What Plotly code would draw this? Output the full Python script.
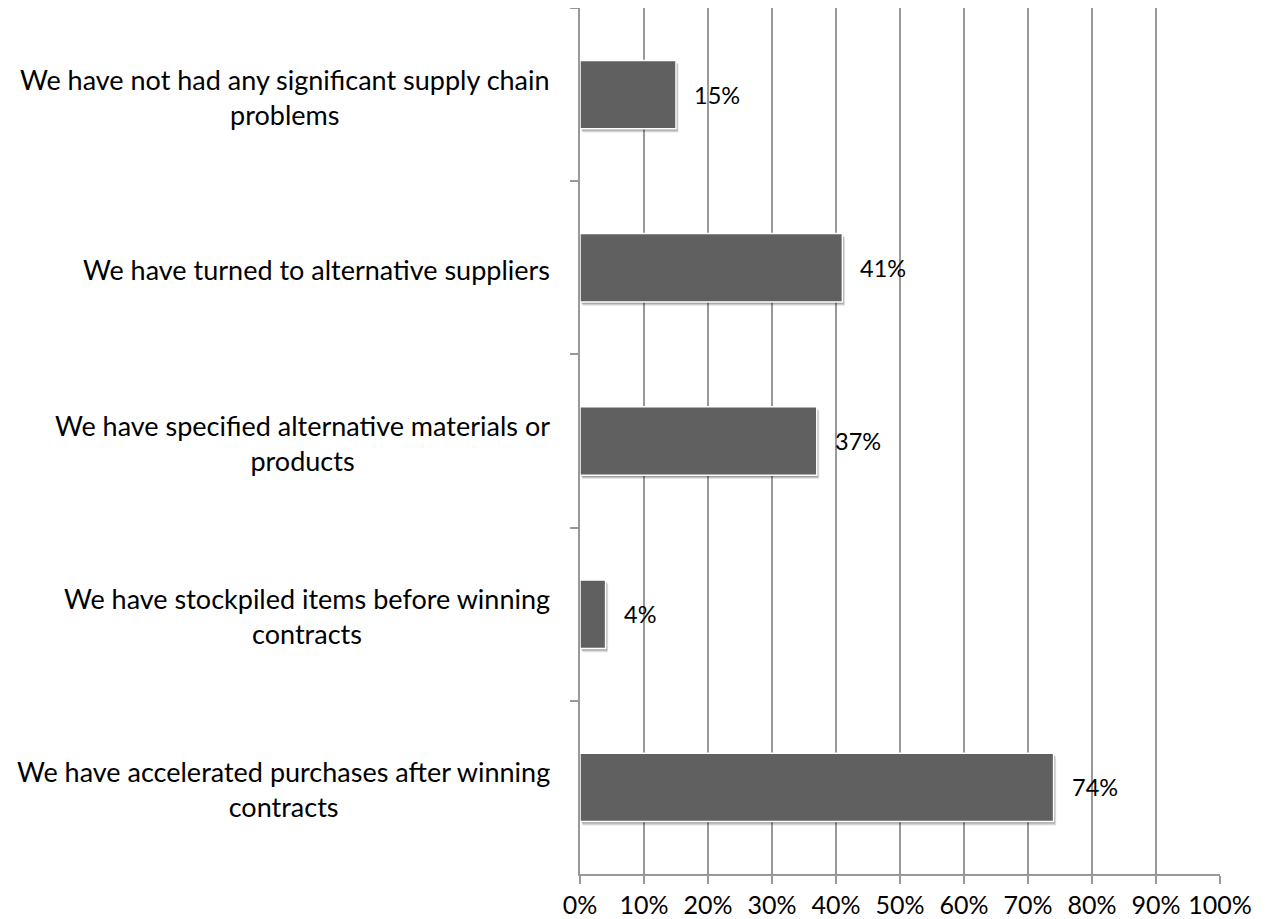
import plotly.graph_objects as go

categories = [
    "We have not had any significant supply chain<br>problems",
    "We have turned to alternative suppliers",
    "We have specified alternative materials or<br>products",
    "We have stockpiled items before winning<br>contracts",
    "We have accelerated purchases after winning<br>contracts",
]
values = [0.15, 0.41, 0.37, 0.04, 0.74]
value_labels = ["15%", "41%", "37%", "4%", "74%"]
tick_vals = [0, 0.1, 0.2, 0.3, 0.4, 0.5, 0.6, 0.7, 0.8, 0.9, 1.0]
tick_text = ["0%", "10%", "20%", "30%", "40%", "50%", "60%", "70%", "80%", "90%", "100%"]

FONT = "Lato"
BAR_W = 0.395
fig = go.Figure()
# soft drop shadow (same data, slightly offset)
for k, a in [(0.022, 0.10), (0.016, 0.14), (0.010, 0.18)]:
    fig.add_trace(go.Bar(
        x=values, y=categories, orientation="h",
        width=BAR_W, offset=-BAR_W / 2 + k, base=k * 0.18,
        marker=dict(color=f"rgba(0,0,0,{a})", line=dict(width=0)),
        hoverinfo="skip",
    ))
fig.add_trace(go.Bar(
    x=values, y=categories, orientation="h",
    width=BAR_W, offset=-BAR_W / 2,
    marker=dict(color="#606060", line=dict(color="white", width=1.5)),
    hoverinfo="skip",
))

annotations = []
for c, v, t in zip(categories, values, value_labels):
    annotations.append(dict(x=v, y=c, xref="x", yref="y", text=t, showarrow=False,
                            xanchor="left", xshift=16, font=dict(family=FONT, size=23.5, color="black")))
    annotations.append(dict(x=0, y=c, xref="paper", yref="y", text=c, showarrow=False,
                            xanchor="right", align="center", xshift=-28, yshift=-2,
                            font=dict(family=FONT, size=27, color="black")))

fig.update_layout(
    width=1259, height=911,
    margin=dict(l=572, r=47, t=0, b=43),
    plot_bgcolor="white", paper_bgcolor="white",
    showlegend=False,
    barmode="overlay",
    annotations=annotations,
    xaxis=dict(range=[0, 1], tickvals=tick_vals, ticktext=tick_text,
               showgrid=True, gridcolor="#999999", gridwidth=1.5,
               showline=True, linecolor="#999999", linewidth=1.5,
               ticks="outside", ticklen=8, tickcolor="#999999", tickwidth=1.5,
               tickfont=dict(family=FONT, size=25, color="black"), zeroline=False),
    yaxis=dict(autorange="reversed", showticklabels=False,
               showline=True, linecolor="#999999", linewidth=1.5,
               ticks="outside", tickson="boundaries", ticklen=8, tickcolor="#999999", tickwidth=1.5,
               showgrid=False),
)
fig.write_html("out.html")
